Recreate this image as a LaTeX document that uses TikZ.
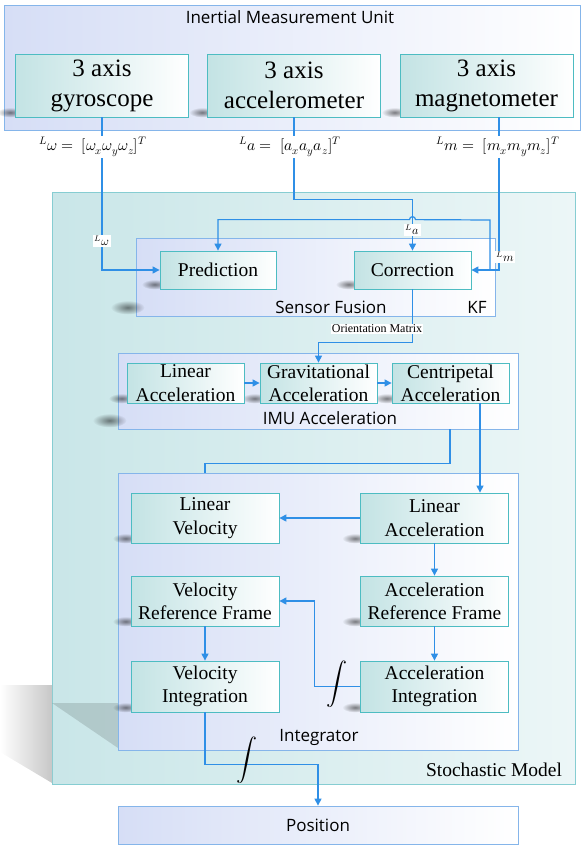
\documentclass[tikz,border=0pt]{standalone}
\usepackage{fontspec}
\usepackage{unicode-math}
\setmainfont{Liberation Serif}
\newfontfamily\uifont{Open Sans}
\usetikzlibrary{arrows.meta,calc,fadings}
\definecolor{FlowColor}{HTML}{2F8FE6}
\definecolor{UnitFill}{HTML}{C3E3E4}
\definecolor{UnitLine}{HTML}{4DBCC2}
\definecolor{GroupFill}{HTML}{D6DEF6}
\definecolor{GroupLine}{HTML}{85B5EA}
\definecolor{ModelFill}{HTML}{C9E6E8}
\definecolor{ModelLine}{HTML}{86CDD2}
\tikzfading[name=softspot, inner color=transparent!10, outer color=transparent!100]
\pgfdeclarelayer{back}
\pgfdeclarelayer{shade}
\pgfsetlayers{back,shade,main}

\begin{document}
\begin{tikzpicture}[x=1pt,y=-1pt]

    \tikzset{%
        unit/.style={draw=UnitLine, line width=0.8pt, left color=UnitFill, right color=white,
                inner sep=0pt, align=center, font=\fontsize{19.5}{23.3}\selectfont},
        sensor/.style={unit, minimum width=173pt, minimum height=63pt, font=\fontsize{25}{30}\selectfont},
        group/.style={draw=GroupLine, line width=0.8pt, left color=GroupFill, right color=white, inner sep=0pt},
        model/.style={draw=ModelLine, line width=0.8pt, left color=ModelFill, right color=ModelFill!35!white, inner sep=0pt},
        caption/.style={font=\uifont\fontsize{17}{20}\selectfont, inner sep=0pt},
        flow/.style={draw=FlowColor, line width=1.2pt, -{Triangle[length=7pt,width=7pt]}},
        wire/.style={draw=FlowColor, line width=1.2pt},
        tag/.style={fill=white, inner sep=1.5pt, font=\fontsize{12}{14}\selectfont},
        formula/.style={fill=white, inner sep=1pt, font=\fontsize{15.5}{18}\selectfont},
        blur/.style={fill=black, fill opacity=0.55, path fading=softspot},
    }

    \useasboundingbox (0,0) rectangle (582,847);

    % containers
    \begin{pgfonlayer}{back}
        \node[model, minimum width=523pt, minimum height=592pt] (stoch) at (313.5,488) {};
        \node[group, minimum width=576pt, minimum height=125pt] (imu) at (292,67.5) {};
        \fill[black!22, path fading=west] (0,685) -- (52,685) -- (52,783) -- (0,752) -- cycle;
        \fill[black, fill opacity=0.13] (52,703) -- (118,703) -- (118,748) -- cycle;
        \node[group, minimum width=359pt, minimum height=78pt] (fusion) at (315.5,277) {};
        \node[group, minimum width=400pt, minimum height=76pt] (imuacc) at (318,391) {};
        \node[group, minimum width=400pt, minimum height=277pt] (integ) at (318,611.5) {};
        \node[group, minimum width=400pt, minimum height=38pt] (pos) at (318,825) {};
    \end{pgfonlayer}

    \node[caption] (imutitle) at (290,17) {Inertial Measurement Unit};
    \node[caption] (fusiontitle) at (331,307) {Sensor Fusion};
    \node[caption] (kftitle) at (477,307) {KF};
    \node[caption] (acctitle) at (330,418) {IMU Acceleration};
    \node[caption] (integtitle) at (319,737) {Integrator};
    \node[caption] (postitle) at (318,825) {Position};
    \node[inner sep=0pt, font=\fontsize{19.5}{23}\selectfont] (stochtitle) at (494,770) {Stochastic Model};

    % sensors
    \foreach \name/\x/\txt in {gyro/102/gyroscope, acc/294/accelerometer, mag/486.5/magnetometer} {%
            \node[sensor] (\name) at (\x, 85.5) {3 axis\\\txt};
        }

    % kalman filter
    \node[unit, minimum width=116pt, minimum height=38pt] (pred) at (218,270) {Prediction};
    \node[unit, minimum width=117pt, minimum height=38pt] (corr) at (412.5,270) {Correction};

    % acceleration chain
    \foreach \name/\x/\txt in {lin/185.5/Linear, grav/318.5/Gravitational, cent/450.5/Centripetal} {%
            \node[unit, minimum width=117pt, minimum height=40pt] (\name) at (\x, 383) {\txt\\Acceleration};
        }

    % integrator
    \node[unit, minimum width=148pt, minimum height=50pt] (lv) at (205,518) {Linear\\Velocity};
    \node[unit, minimum width=148pt, minimum height=50pt] (ila) at (434.5,518) {Linear\\Acceleration};
    \node[unit, minimum width=148pt, minimum height=50pt] (vr) at (205,601) {Velocity\\Reference Frame};
    \node[unit, minimum width=148pt, minimum height=50pt] (ar) at (434.5,601) {Acceleration\\Reference Frame};
    \node[unit, minimum width=148pt, minimum height=51pt] (vi) at (205,686.5) {Velocity\\Integration};
    \node[unit, minimum width=148pt, minimum height=51pt] (ai) at (434.5,686.5) {Acceleration\\Integration};

    \begin{pgfonlayer}{shade}
        \foreach \n in {gyro, acc, mag, pred, corr, lin, grav, cent, lv, ila, vr, ar, vi, ai} {%
                \fill[blur] ($(\n.south west)+(-5,-5)$) ellipse [x radius=13, y radius=5];
            }
        \foreach \n in {fusion, imuacc} {%
                \fill[blur] ($(\n.south west)+(-8,-9)$) ellipse [x radius=17, y radius=7];
            }
    \end{pgfonlayer}

    \coordinate (magx) at (499,0);
    \coordinate (loopx) at (490,0);
    \coordinate (centx) at (480,0);
    \coordinate (hubx) at (450,0);

    % sensor signals
    \draw[flow] (gyro.south) |- (pred.west);
    \draw[flow] (acc.south) |- ($(corr.north)+(0,-51)$) -- (corr.north);
    \draw[flow] (mag.south -| magx) |- (corr.east);
    \draw[flow] (corr.east -| loopx) -- ++(0,-50) -- ($(corr.north)+(3,-31)$)
    arc[start angle=0, end angle=-180, radius=3] -- ($(pred.north)+(0,-31)$) -- (pred.north);
    \draw[flow] (corr.south) -- ++(0,53) -| (grav.north);

    \draw[flow] (lin.east) -- (grav.west);
    \draw[flow] (grav.east) -- (cent.west);
    \draw[flow] (cent.south -| centx) -- (ila.north -| centx);
    \draw[wire] (imuacc.south -| hubx) -- ++(0,34) -| (integ.north -| lv.north);

    \draw[flow] (ila.west) -- (lv.east);
    \draw[flow] (ila.south) -- (ar.north);
    \draw[flow] (ar.south) -- (ai.north);
    \draw[flow] (vr.south) -- (vi.north);
    \draw[flow] (ai.west) -- ++(-46,0) |- (vr.east);
    \draw[flow] (vi.south) -- ++(0,52) -| (pos.north);

    % labels
    \node[formula] (wvec) at (93,147) {${}^{L}\omega=\;[\omega_x\omega_y\omega_z]^T$};
    \node[formula] (avec) at (290,147) {${}^{L}a=\;[a_xa_ya_z]^T$};
    \node[formula] (mvec) at (498,147) {${}^{L}m=\;[m_xm_ym_z]^T$};
    \node[tag] (wtag) at (102,241) {${}^{L}\omega$};
    \node[tag] (atag) at (412.5,230) {${}^{L}a$};
    \node[tag] (mtag) at (505,257) {${}^{L}m$};
    \node[fill=white, inner sep=1pt, font=\fontsize{12}{14}\selectfont] (orient) at (377,329) {Orientation Matrix};
    \node[inner sep=0pt, font=\fontsize{21}{25}\selectfont] (int1) at (337,684) {$\displaystyle\int$};
    \node[inner sep=0pt, font=\fontsize{21}{25}\selectfont] (int2) at (247,760) {$\displaystyle\int$};

\end{tikzpicture}
\end{document}
